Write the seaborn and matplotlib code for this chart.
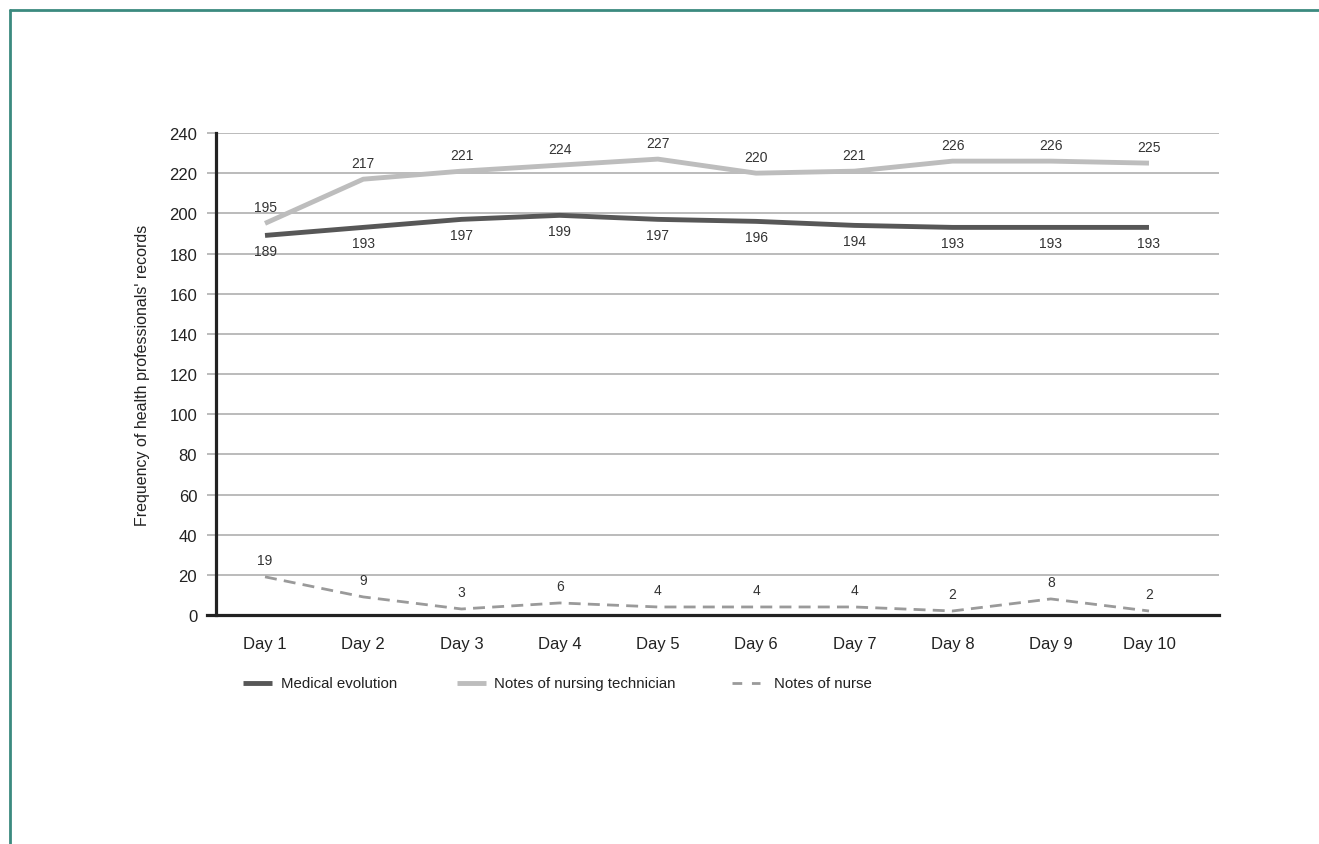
import matplotlib
matplotlib.use("Agg")
import matplotlib.pyplot as plt
from matplotlib.lines import Line2D
import seaborn as sns
import pandas as pd

days = ["Day 1", "Day 2", "Day 3", "Day 4", "Day 5", "Day 6", "Day 7", "Day 8", "Day 9", "Day 10"]
medical_evolution = [189, 193, 197, 199, 197, 196, 194, 193, 193, 193]
nursing_technician = [195, 217, 221, 224, 227, 220, 221, 226, 226, 225]
notes_of_nurse = [19, 9, 3, 6, 4, 4, 4, 2, 8, 2]
y_ticks = [0, 20, 40, 60, 80, 100, 120, 140, 160, 180, 200, 220, 240]
series_names = ["Medical evolution", "Notes of nursing technician", "Notes of nurse"]

sns.set_theme(style="white")
plt.rcParams["font.family"] = ["Liberation Sans Narrow", "Liberation Sans", "DejaVu Sans"]

W, H = 1319, 845
fig = plt.figure(figsize=(W / 100, H / 100), dpi=100)
L, R, T, B = 216, 1219, 134, 616
ax = fig.add_axes([L / W, 1 - B / H, (R - L) / W, (B - T) / H])

C_MED, C_TECH, C_NURSE = "#575757", "#bdbdbd", "#9a9a9a"
LW_THICK, LW_DASH = 3.5, 2.0
DASH = [4.3, 2.6]

x = list(range(len(days)))
df = pd.DataFrame({"x": x, "med": medical_evolution, "tech": nursing_technician, "nurse": notes_of_nurse})

sns.lineplot(data=df, x="x", y="tech", ax=ax, color=C_TECH, linewidth=LW_THICK, zorder=3)
sns.lineplot(data=df, x="x", y="med", ax=ax, color=C_MED, linewidth=LW_THICK, zorder=4)
sns.lineplot(data=df, x="x", y="nurse", ax=ax, color=C_NURSE, linewidth=LW_DASH, zorder=3)
ax.lines[-1].set_dashes(DASH)
for ln in ax.lines:
    ln.set_solid_capstyle("butt")
    ln.set_solid_joinstyle("round")

step = 98.2
ax.set_xlim(-49 / step, 9 + 70 / step)
ax.set_ylim(0, 240)
ax.set_yticks(y_ticks)
ax.set_yticklabels([str(v) for v in y_ticks], fontsize=12, color="#222222")
ax.set_xticks(x)
ax.set_xticklabels(days, fontsize=12, color="#222222")
ax.tick_params(axis="x", length=0, pad=15)
ax.tick_params(axis="y", length=6.5, width=1.1, color="#a8a8a8", pad=7, left=True)
ax.yaxis.grid(True, color="#a8a8a8", linewidth=1.1)
ax.set_axisbelow(True)
for s in ["top", "right"]:
    ax.spines[s].set_visible(False)
for s in ["left", "bottom"]:
    ax.spines[s].set_color("#222222")
    ax.spines[s].set_linewidth(2.3)
    ax.spines[s].set_zorder(5)
ax.spines["bottom"].set_bounds(-58 / step, 9 + 70 / step)
ax.set_xlabel("")
ax.set_ylabel("Frequency of health professionals' records", fontsize=11.5, color="#222222")
ax.yaxis.set_label_coords((150 - L) / (R - L), 0.5)

for i in x:
    ax.annotate(str(nursing_technician[i]), (i, nursing_technician[i]), textcoords="offset pixels",
                xytext=(0, 16), ha="center", va="center", fontsize=10, color="#333333")
    ax.annotate(str(medical_evolution[i]), (i, medical_evolution[i]), textcoords="offset pixels",
                xytext=(0, -16), ha="center", va="center", fontsize=10, color="#333333")
    ax.annotate(str(notes_of_nurse[i]), (i, notes_of_nurse[i]), textcoords="offset pixels",
                xytext=(0, 17), ha="center", va="center", fontsize=10, color="#333333")

# legend (manual placement)
ly = 1 - 684 / H
items = [
    (243, 272, 281, C_MED, LW_THICK, None),
    (457, 486, 494, C_TECH, LW_THICK, None),
    (732, 760, 774, C_NURSE, LW_DASH, [3.5, 3.5]),
]
for (x0, x1, xt, col, lw, dash), name in zip(items, series_names):
    ln = Line2D([x0 / W, x1 / W], [ly, ly], color=col, linewidth=lw, solid_capstyle="butt",
                transform=fig.transFigure)
    if dash:
        ln.set_dashes(dash)
    fig.add_artist(ln)
    fig.text(xt / W, ly, name, ha="left", va="center", fontsize=10.8, color="#222222")

fig.add_artist(Line2D([10 / W, 1], [1 - 11 / H, 1 - 11 / H], color="#3b8a7f", linewidth=2, transform=fig.transFigure))
fig.add_artist(Line2D([10 / W, 10 / W], [1 - 11 / H, 0], color="#3b8a7f", linewidth=2, transform=fig.transFigure))

fig.savefig("out.png", dpi=100)
